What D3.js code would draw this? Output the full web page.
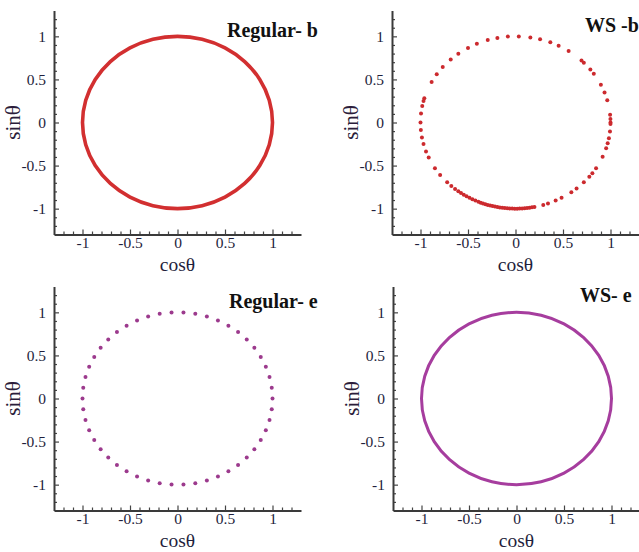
<html>
    <head>
        <style>
            body { margin: 0; background: white; }
            text { font-family: "Liberation Serif", "Times New Roman", serif; }
        </style>
    </head>
    <body>
        <svg id="chart" width="639" height="552"></svg>

        <script src="https://d3js.org/d3.v7.min.js"></script>
        <script>
            // panel titles
            var titles = ["Regular- b", "WS -b", "Regular- e", "WS- e"];

            // axis ticks
            var majorTicks = [-1, -0.5, 0, 0.5, 1];
            var tickLabels = ["-1", "-0.5", "0", "0.5", "1"];
            var minorTicks = [-1.2, -1.1, -0.9, -0.8, -0.7, -0.6, -0.4, -0.3, -0.2, -0.1,
                              0.1, 0.2, 0.3, 0.4, 0.6, 0.7, 0.8, 0.9, 1.1, 1.2];

            // theta (degrees) of the traced points
            // Regular- b : continuous curve
            var regularB = [0, 15, 30, 45, 60, 75, 90, 105, 120, 135, 150, 165,
                            180, 195, 210, 225, 240, 255, 270, 285, 300, 315, 330, 345];

            // WS -b : scattered points, bunched at the bottom
            var wsB = [0, 2.3, 5.2, 15, 20.4, 26, 34.5, 38, 44, 46, 56, 63, 68.5, 75, 81, 88,
                       94.6, 101, 107, 114, 120, 127, 133, 140, 146, 152, 163.7, 165.5, 169, 174,
                       180, 185, 190, 194.5, 199.6, 204, 212, 217.5, 224, 227.5, 230.5,
                       233, 235, 237, 239, 241, 243, 245, 247, 248.5, 250, 251.5, 253, 254.5,
                       256, 257.5, 259, 260.5, 262, 263.5, 265, 266.5, 268, 269.5, 271, 272.5,
                       274, 275.5, 277, 278.5, 280, 281.5,
                       287, 290, 295, 299, 306, 310, 316, 321, 324, 328, 336.5, 342.6, 346,
                       349.5, 354, 359];

            // Regular- e : evenly spaced points
            var regularE = [0, 7.2, 14.4, 21.6, 28.8, 36, 43.2, 50.4, 57.6, 64.8,
                            72, 79.2, 86.4, 93.6, 100.8, 108, 115.2, 122.4, 129.6, 136.8,
                            144, 151.2, 158.4, 165.6, 172.8, 180, 187.2, 194.4, 201.6, 208.8,
                            216, 223.2, 230.4, 237.6, 244.8, 252, 259.2, 266.4, 273.6, 280.8,
                            288, 295.2, 302.4, 309.6, 316.8, 324, 331.2, 338.4, 345.6, 352.8];

            // WS- e : continuous curve
            var wsE = [0, 15, 30, 45, 60, 75, 90, 105, 120, 135, 150, 165,
                       180, 195, 210, 225, 240, 255, 270, 285, 300, 315, 330, 345];

            var svg = d3.select("#chart");
            var serif = "Liberation Serif, Times New Roman, serif";

            var panelW = 247;
            var panelH = 224;

            var panels = [
                { left: 54,  top: 10.5,  title: titles[0], tx: 227, ty: 37,  data: regularB, kind: "line", color: "#d22f30" },
                { left: 392, top: 10.5,  title: titles[1], tx: 585, ty: 32,  data: wsB,      kind: "dots", color: "#cc2a2e" },
                { left: 54,  top: 286.5, title: titles[2], tx: 229, ty: 308, data: regularE, kind: "dots", color: "#9c3a8d" },
                { left: 393, top: 286.5, title: titles[3], tx: 580, ty: 302, data: wsE,      kind: "line", color: "#a63d9e" }
            ];

            panels.forEach(function(p)
            {
                var x = d3.scaleLinear().domain([-1.3, 1.3]).range([p.left, p.left + panelW]);
                var y = d3.scaleLinear().domain([-1.3, 1.3]).range([p.top + panelH, p.top]);

                var g = svg.append("g");

                // minor ticks
                g.append("g")
                    .attr("transform", "translate(0," + (p.top + panelH) + ")")
                    .call(d3.axisBottom(x).tickValues(minorTicks).tickSize(-3).tickSizeOuter(0).tickFormat(""))
                    .call(function(a){ a.select(".domain").remove(); });
                g.append("g")
                    .attr("transform", "translate(" + p.left + ",0)")
                    .call(d3.axisLeft(y).tickValues(minorTicks).tickSize(-3).tickSizeOuter(0).tickFormat(""))
                    .call(function(a){ a.select(".domain").remove(); });

                // major ticks + labels
                var xa = g.append("g")
                    .attr("transform", "translate(0," + (p.top + panelH) + ")")
                    .call(d3.axisBottom(x).tickValues(majorTicks).tickSize(-5).tickSizeOuter(0)
                        .tickFormat(function(d, i){ return tickLabels[i]; }));
                var ya = g.append("g")
                    .attr("transform", "translate(" + p.left + ",0)")
                    .call(d3.axisLeft(y).tickValues(majorTicks).tickSize(-5).tickSizeOuter(0)
                        .tickFormat(function(d, i){ return tickLabels[i]; }));

                [xa, ya].forEach(function(a){
                    a.attr("font-family", serif).attr("font-size", 15);
                    a.select(".domain").attr("stroke", "#3a3a3a").attr("stroke-width", 2);
                    a.selectAll(".tick text")
                        .attr("font-family", serif)
                        .style("font-family", serif)
                        .style("font-size", "15.5px")
                        .attr("fill", "#1f1f3d");
                });
                xa.selectAll(".tick text").attr("y", 2.5);
                ya.selectAll(".tick text").attr("x", -8);
                g.selectAll(".tick line").attr("stroke", "#444").attr("stroke-width", 1.2);

                // axis titles
                g.append("text")
                    .attr("x", x(0))
                    .attr("y", p.top + panelH + 36)
                    .attr("text-anchor", "middle")
                    .style("font-size", "19.5px")
                    .attr("fill", "#1f1f3d")
                    .text("cosθ");
                g.append("text")
                    .attr("transform", "translate(" + (p.left - 34) + "," + y(0) + ") rotate(-90)")
                    .attr("text-anchor", "middle")
                    .style("font-size", "21px")
                    .attr("fill", "#2b1d3a")
                    .text("sinθ");

                // panel title
                g.append("text")
                    .attr("x", p.tx)
                    .attr("y", p.ty)
                    .style("font-size", "20px")
                    .style("font-weight", "bold")
                    .attr("fill", "#111")
                    .text(p.title);

                var rad = function(d){ return d * Math.PI / 180; };

                if(p.kind == "line")
                {
                    var line = d3.line()
                        .x(function(d){ return x(Math.cos(rad(d))); })
                        .y(function(d){ return y(Math.sin(rad(d))); })
                        .curve(d3.curveCatmullRomClosed);
                    g.append("path")
                        .attr("d", line(p.data))
                        .attr("fill", "none")
                        .attr("stroke", p.color)
                        .attr("stroke-width", p.left < 100 ? 3.6 : 3);
                }
                else
                {
                    g.selectAll("circle.pt")
                        .data(p.data)
                        .enter()
                        .append("circle")
                        .attr("class", "pt")
                        .attr("cx", function(d){ return x(Math.cos(rad(d))); })
                        .attr("cy", function(d){ return y(Math.sin(rad(d))); })
                        .attr("r", 2)
                        .attr("fill", p.color);
                }
            });
        </script>
    </body>
</html>
